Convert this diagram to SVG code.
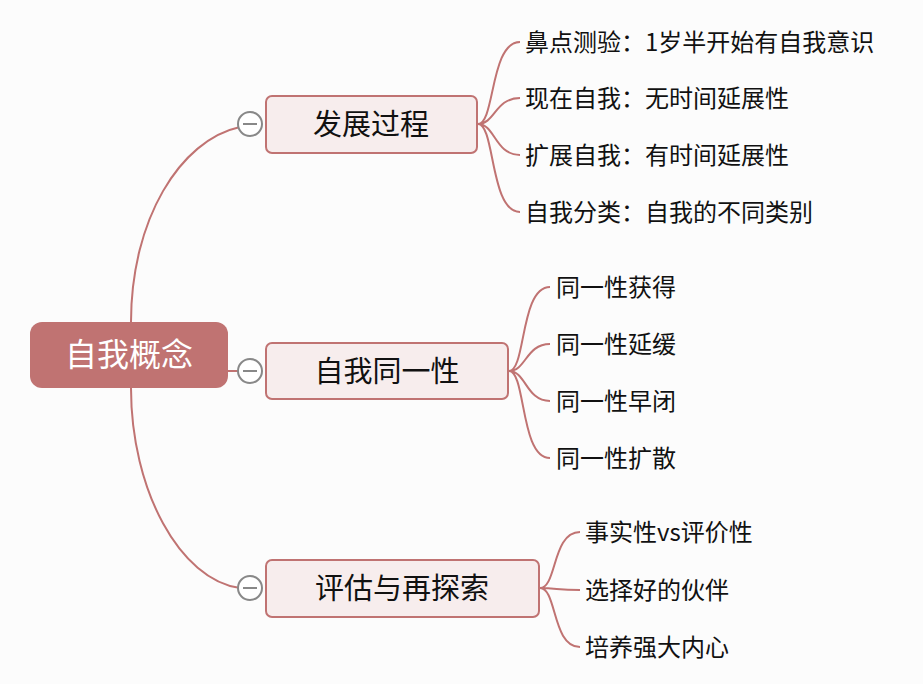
<svg xmlns="http://www.w3.org/2000/svg" width="923" height="684" viewBox="0 0 923 684">
<style>
.c{fill:none;stroke:#c07372;stroke-width:2}
.n{fill:#f7eded;stroke:#c07372;stroke-width:2}
.t{font-family:"Noto Sans CJK SC",sans-serif;font-size:29px;fill:#111;text-anchor:middle}
.s{font-family:"Noto Sans CJK SC",sans-serif;font-size:24px;fill:#111}
.k{fill:#fff;stroke:#888;stroke-width:2}
</style>
<rect width="923" height="684" fill="#fcfcfc"/>
<g id="connectors">
<path class="c" d="M131,322 C131,220 180,140 240,127"/>
<path class="c" d="M228,371 H240"/>
<path class="c" d="M131,388 C131,490 180,580 240,588"/>
<path class="c" d="M478,124 C495,124 490,42 520,42 M478,124 C495,124 495,98 520,98 M478,124 C495,124 495,155 520,155 M478,124 C495,124 490,212 520,212"/>
<path class="c" d="M509,371 C526,371 520,287 550,287 M509,371 C526,371 526,344 550,344 M509,371 C526,371 526,401 550,401 M509,371 C526,371 520,458 550,458"/>
<path class="c" d="M540,588 C557,588 552,532 580,532 M540,588 C557,588 557,590 580,590 M540,588 C557,588 552,647 580,647"/>
</g>
<g id="root"><rect x="30" y="322" width="198" height="66" rx="12" fill="#c07372"/><text x="129" y="366" class="t" fill="#fff" style="fill:#fff;font-size:32px">自我概念</text></g>
<g id="n1"><rect class="n" x="266" y="96" width="211" height="57" rx="6"/><text class="t" x="371" y="135">发展过程</text><circle class="k" cx="250" cy="124" r="12"/><path d="M243,124H257" stroke="#888" stroke-width="2"/></g>
<g id="n2"><rect class="n" x="266" y="343" width="242" height="56" rx="6"/><text class="t" x="387" y="382">自我同一性</text><circle class="k" cx="250" cy="371" r="12"/><path d="M243,371H257" stroke="#888" stroke-width="2"/></g>
<g id="n3"><rect class="n" x="266" y="560" width="273" height="57" rx="6"/><text class="t" x="402" y="599">评估与再探索</text><circle class="k" cx="250" cy="588" r="12"/><path d="M243,588H257" stroke="#888" stroke-width="2"/></g>
<g id="leaves1"><text class="s" x="525" y="51">鼻点测验：1岁半开始有自我意识</text><text class="s" x="525" y="107">现在自我：无时间延展性</text><text class="s" x="525" y="164">扩展自我：有时间延展性</text><text class="s" x="525" y="221">自我分类：自我的不同类别</text></g>
<g id="leaves2"><text class="s" x="556" y="296">同一性获得</text><text class="s" x="556" y="353">同一性延缓</text><text class="s" x="556" y="410">同一性早闭</text><text class="s" x="556" y="467">同一性扩散</text></g>
<g id="leaves3"><text class="s" x="585" y="541">事实性vs评价性</text><text class="s" x="585" y="599">选择好的伙伴</text><text class="s" x="585" y="656">培养强大内心</text></g>
</svg>
